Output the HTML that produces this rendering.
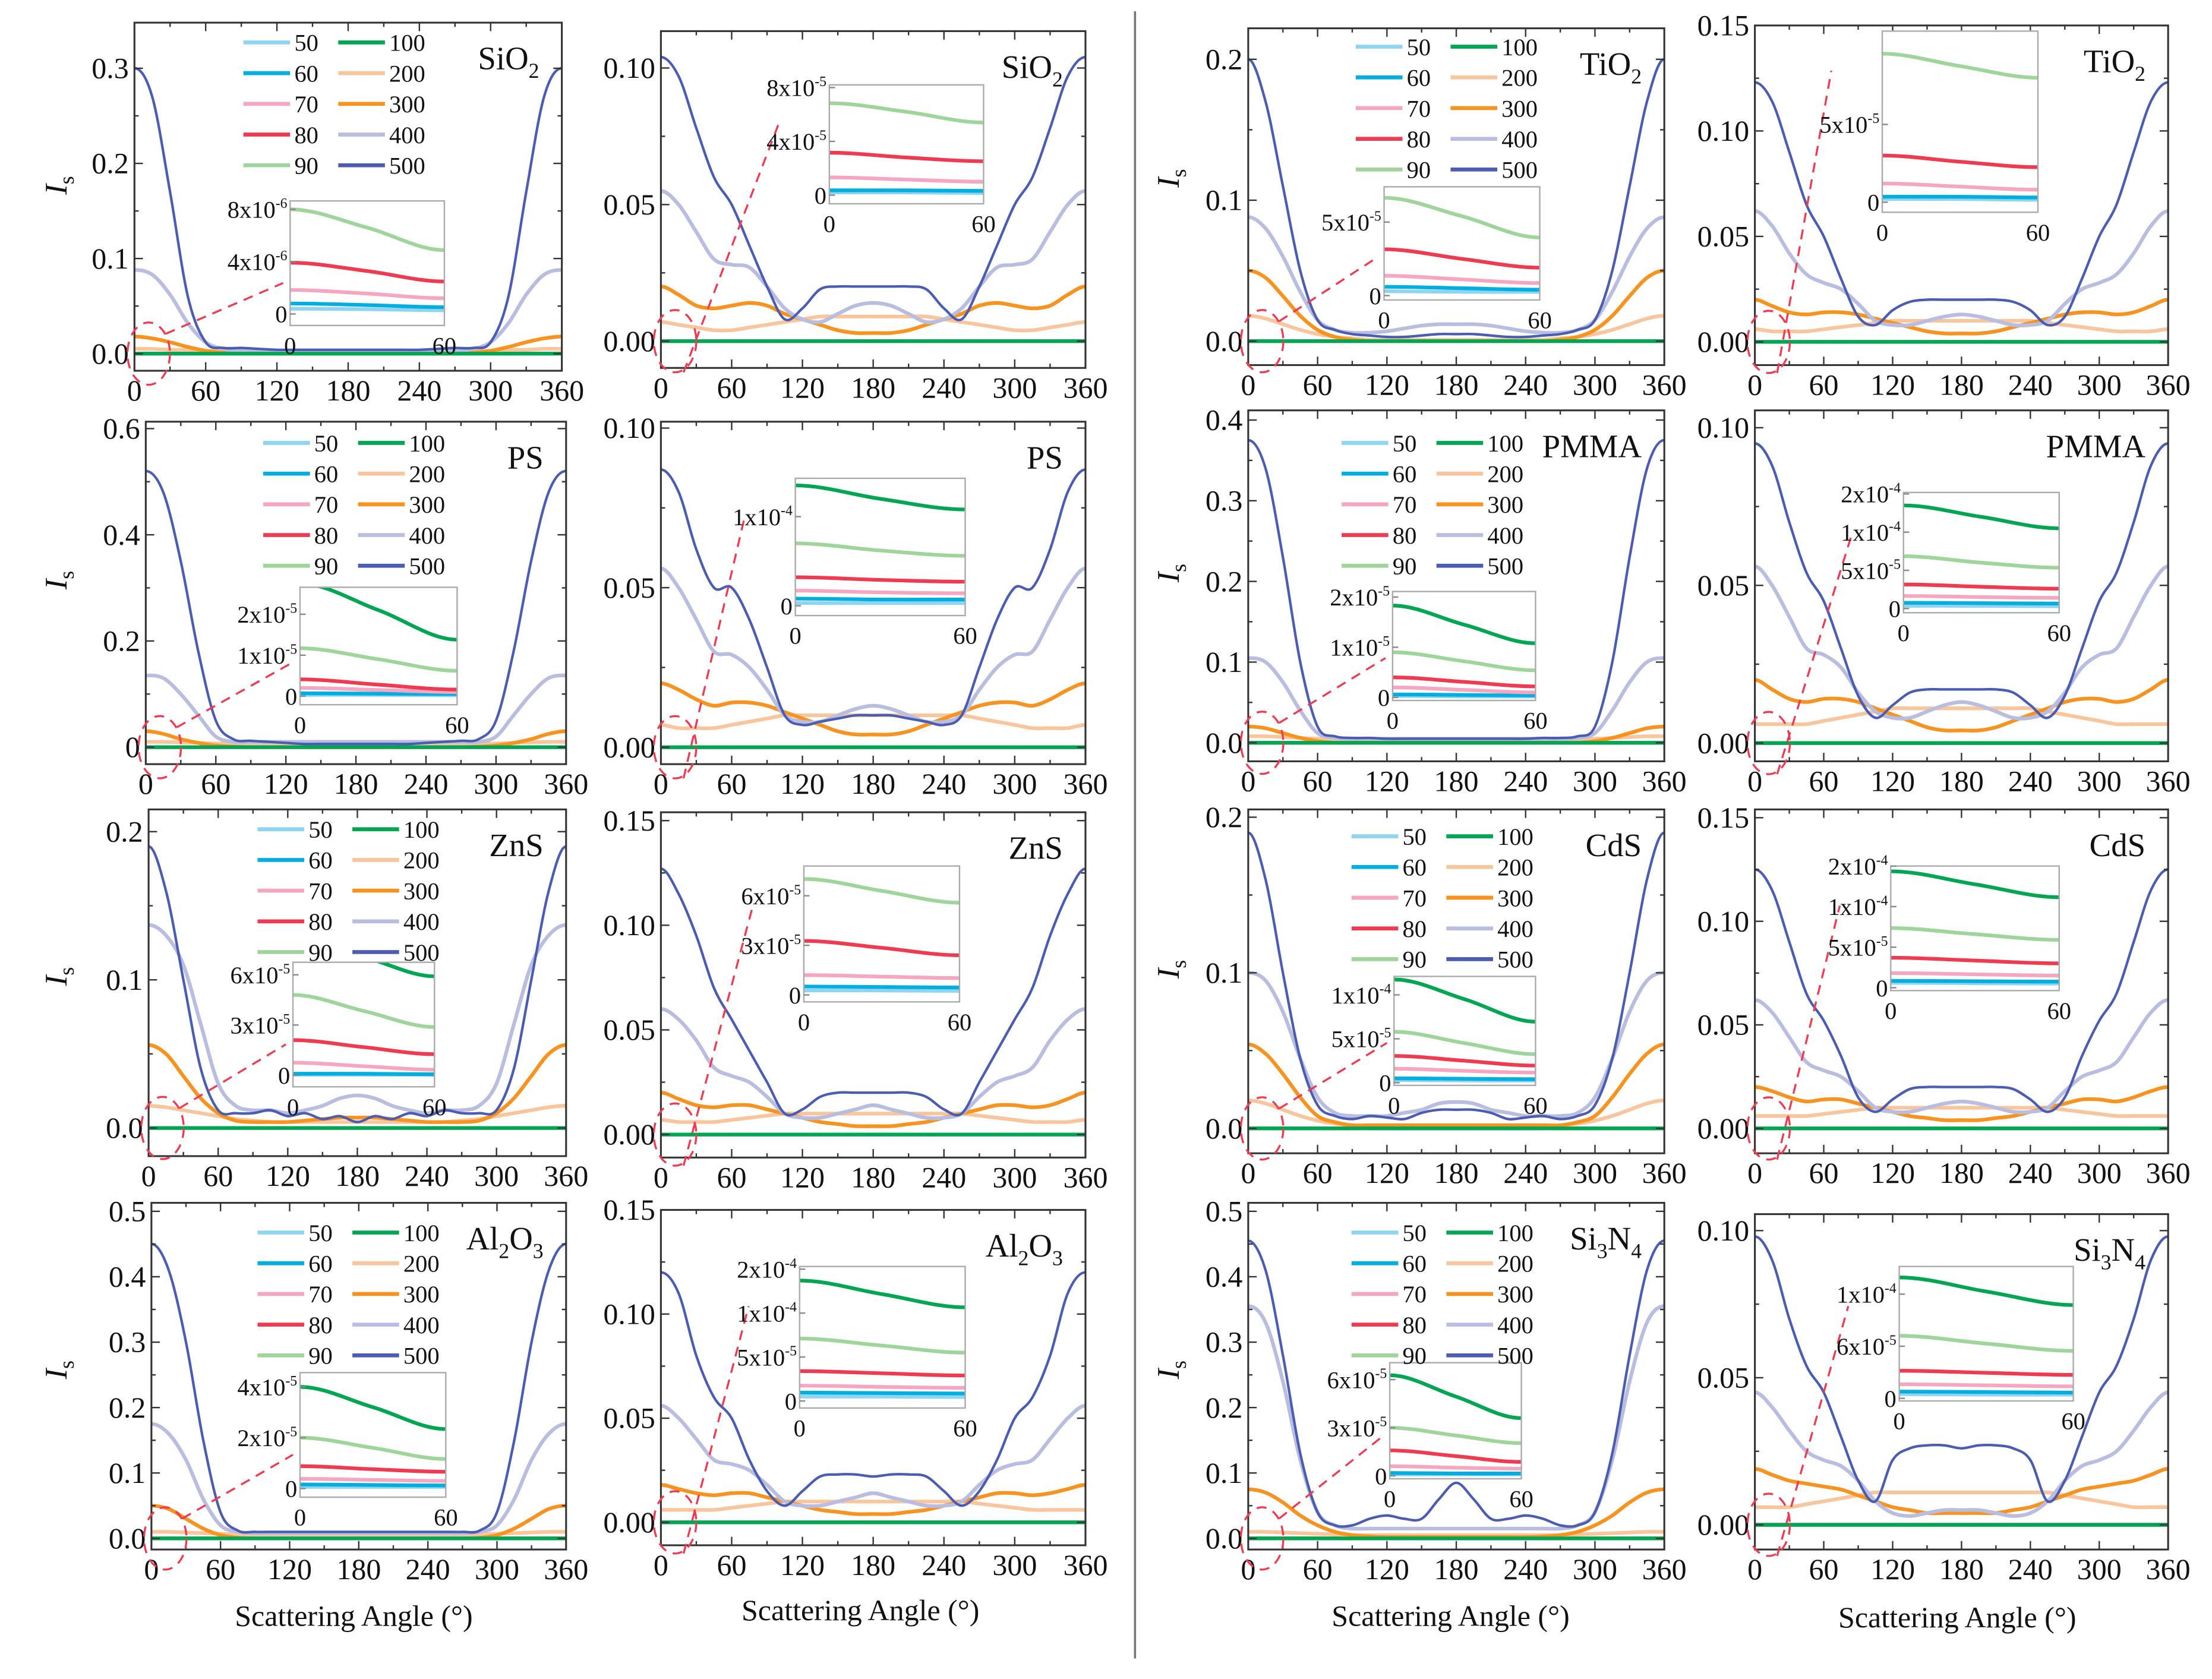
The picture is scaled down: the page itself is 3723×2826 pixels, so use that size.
<!DOCTYPE html>
<html><head><meta charset="utf-8">
<style>
html,body{margin:0;padding:0;background:#fff;}
svg, svg text{font-family:"Liberation Serif","DejaVu Serif",serif;}
</style></head>
<body>
<svg id="fig" xmlns="http://www.w3.org/2000/svg" width="3723" height="2821" viewBox="0 0 1563 1184.4" preserveAspectRatio="none" font-family="Liberation Serif, DejaVu Serif, serif">
<rect x="0" y="0" width="1563" height="1184.4" fill="#fff"/>
<line x1="802" y1="8" x2="802" y2="1172" stroke="#777" stroke-width="1.5"/>
</svg>
<script>
// ---------- DATA (main panels; angles 0..180 step 15, mirrored to 360) ----------
const ANG=[0,15,30,45,60,75,90,105,120,135,150,165,180];
const ZERO=[0,0,0,0,0,0,0,0,0,0,0,0,0];
// panel 1 SiO2 left
const p1_500=[0.30,0.27,0.17,0.06,0.012,0.006,0.006,0.005,0.004,0.004,0.004,0.004,0.004];
const p1_400=[0.088,0.083,0.062,0.032,0.012,0.005,0.003,0.003,0.003,0.003,0.003,0.003,0.003];
const p1_300=[0.018,0.016,0.012,0.007,0.003,0.001,0,0,0,0,0,0,0];
const p1_200=[0.005,0.005,0.004,0.004,0.003,0.003,0.003,0.003,0.003,0.003,0.003,0.003,0.003];
// panel 2 SiO2 right
const p2_500=[0.104,0.097,0.078,0.06,0.05,0.035,0.02,0.008,0.012,0.019,0.02,0.02,0.02];
const p2_400=[0.055,0.05,0.04,0.03,0.028,0.027,0.02,0.012,0.008,0.007,0.01,0.013,0.014];
const p2_300=[0.02,0.017,0.013,0.012,0.013,0.014,0.013,0.01,0.008,0.006,0.004,0.003,0.003];
const p2_200=[0.007,0.006,0.005,0.004,0.004,0.005,0.006,0.007,0.008,0.009,0.009,0.009,0.009];
// panel 3 TiO2 left
const p3_500=[0.2,0.17,0.11,0.05,0.015,0.008,0.005,0.004,0.003,0.003,0.004,0.005,0.005];
const p3_400=[0.088,0.08,0.06,0.035,0.015,0.008,0.006,0.006,0.007,0.009,0.011,0.012,0.012];
const p3_300=[0.05,0.045,0.032,0.018,0.008,0.003,0.001,0,0,0,0,0,0];
const p3_200=[0.018,0.016,0.012,0.008,0.005,0.003,0.002,0.001,0.001,0.001,0.001,0.001,0.001];
// panel 4 TiO2 right
const p4_500=[0.123,0.114,0.09,0.065,0.05,0.03,0.012,0.008,0.015,0.019,0.02,0.02,0.02];
const p4_400=[0.062,0.055,0.042,0.032,0.028,0.025,0.018,0.01,0.008,0.008,0.01,0.012,0.013];
const p4_300=[0.02,0.017,0.014,0.013,0.014,0.014,0.013,0.011,0.009,0.007,0.005,0.004,0.004];
const p4_200=[0.006,0.005,0.005,0.005,0.006,0.007,0.008,0.009,0.01,0.01,0.01,0.01,0.01];
// panel 5 PS left
const p5_500=[0.52,0.48,0.35,0.18,0.05,0.015,0.012,0.01,0.008,0.006,0.006,0.006,0.006];
const p5_400=[0.135,0.13,0.1,0.06,0.02,0.01,0.01,0.01,0.01,0.01,0.01,0.01,0.01];
const p5_300=[0.03,0.025,0.015,0.008,0.003,0.001,0,0,0,0,0,0,0];
const p5_200=[0.01,0.01,0.009,0.008,0.007,0.006,0.005,0.005,0.005,0.005,0.005,0.005,0.005];
// panel 6 PS right
const p6_500=[0.087,0.08,0.062,0.05,0.05,0.04,0.025,0.01,0.007,0.008,0.009,0.01,0.01];
const p6_400=[0.056,0.05,0.04,0.03,0.029,0.025,0.018,0.01,0.008,0.008,0.01,0.012,0.013];
const p6_300=[0.02,0.018,0.015,0.013,0.014,0.014,0.013,0.011,0.009,0.007,0.005,0.004,0.004];
const p6_200=[0.007,0.006,0.006,0.006,0.007,0.008,0.009,0.01,0.01,0.01,0.01,0.01,0.01];
// panel 7 PMMA left
const p7_500=[0.375,0.34,0.23,0.1,0.02,0.008,0.006,0.006,0.005,0.005,0.005,0.005,0.005];
const p7_400=[0.105,0.1,0.075,0.04,0.012,0.006,0.005,0.005,0.005,0.005,0.005,0.005,0.005];
const p7_300=[0.02,0.018,0.012,0.006,0.002,0,0,0,0,0,0,0,0];
const p7_200=[0.008,0.008,0.007,0.006,0.005,0.004,0.004,0.004,0.004,0.004,0.004,0.004,0.004];
// panel 8 PMMA right
const p8_500=[0.095,0.088,0.07,0.054,0.045,0.03,0.015,0.008,0.012,0.016,0.017,0.017,0.017];
const p8_400=[0.056,0.05,0.04,0.03,0.028,0.024,0.016,0.01,0.008,0.008,0.01,0.012,0.013];
const p8_300=[0.02,0.017,0.014,0.013,0.014,0.014,0.013,0.011,0.009,0.007,0.005,0.004,0.004];
const p8_200=[0.006,0.006,0.006,0.006,0.007,0.008,0.009,0.01,0.011,0.011,0.011,0.011,0.011];
// panel 9 ZnS left
const p9_500=[0.19,0.16,0.1,0.04,0.012,0.01,0.01,0.012,0.008,0.01,0.006,0.008,0.004];
const p9_400=[0.137,0.13,0.11,0.07,0.03,0.015,0.012,0.012,0.01,0.012,0.015,0.02,0.022];
const p9_300=[0.056,0.05,0.035,0.02,0.01,0.005,0.004,0.004,0.004,0.005,0.006,0.007,0.007];
const p9_200=[0.015,0.014,0.012,0.01,0.008,0.006,0.005,0.004,0.004,0.004,0.004,0.004,0.004];
// panel 10 ZnS right
const p10_500=[0.127,0.115,0.095,0.07,0.055,0.04,0.025,0.01,0.012,0.018,0.02,0.02,0.02];
const p10_400=[0.06,0.055,0.045,0.032,0.028,0.025,0.018,0.01,0.008,0.008,0.01,0.012,0.014];
const p10_300=[0.02,0.017,0.014,0.013,0.014,0.014,0.012,0.01,0.008,0.006,0.005,0.004,0.004];
const p10_200=[0.007,0.006,0.006,0.006,0.007,0.008,0.009,0.01,0.01,0.01,0.01,0.01,0.01];
// panel 11 CdS left
const p11_500=[0.19,0.16,0.1,0.045,0.015,0.008,0.006,0.008,0.007,0.006,0.01,0.012,0.012];
const p11_400=[0.1,0.095,0.075,0.045,0.02,0.01,0.008,0.008,0.008,0.01,0.012,0.016,0.017];
const p11_300=[0.054,0.048,0.035,0.02,0.008,0.004,0.002,0.002,0.002,0.002,0.002,0.002,0.002];
const p11_200=[0.018,0.016,0.012,0.008,0.005,0.003,0.002,0.002,0.002,0.002,0.002,0.002,0.002];
// panel 12 CdS right
const p12_500=[0.125,0.115,0.09,0.065,0.052,0.035,0.015,0.008,0.014,0.019,0.02,0.02,0.02];
const p12_400=[0.062,0.056,0.044,0.032,0.028,0.025,0.018,0.01,0.008,0.008,0.01,0.012,0.013];
const p12_300=[0.02,0.018,0.015,0.013,0.014,0.014,0.012,0.01,0.008,0.006,0.005,0.004,0.004];
const p12_200=[0.006,0.006,0.006,0.006,0.007,0.008,0.009,0.01,0.01,0.01,0.01,0.01,0.01];
// panel 13 Al2O3 left
const p13_500=[0.45,0.41,0.3,0.15,0.04,0.012,0.01,0.01,0.01,0.01,0.01,0.01,0.01];
const p13_400=[0.175,0.16,0.12,0.06,0.02,0.01,0.008,0.008,0.008,0.008,0.008,0.008,0.008];
const p13_300=[0.05,0.045,0.03,0.015,0.005,0.001,0,0,0,0,0,0,0];
const p13_200=[0.01,0.01,0.009,0.008,0.007,0.006,0.005,0.005,0.005,0.005,0.005,0.005,0.005];
// panel 14 Al2O3 right
const p14_500=[0.12,0.11,0.08,0.06,0.05,0.03,0.015,0.008,0.015,0.022,0.023,0.023,0.022];
const p14_400=[0.056,0.05,0.04,0.03,0.028,0.025,0.018,0.01,0.008,0.008,0.01,0.012,0.014];
const p14_300=[0.018,0.016,0.014,0.013,0.014,0.014,0.012,0.01,0.008,0.006,0.005,0.004,0.004];
const p14_200=[0.006,0.006,0.006,0.006,0.007,0.008,0.009,0.01,0.01,0.01,0.01,0.01,0.01];
// panel 15 Si3N4 left
const p15_500=[0.455,0.41,0.28,0.13,0.04,0.02,0.02,0.03,0.035,0.03,0.03,0.06,0.085];
const p15_400=[0.355,0.33,0.24,0.12,0.04,0.02,0.015,0.015,0.015,0.015,0.015,0.015,0.015];
const p15_300=[0.075,0.07,0.055,0.035,0.02,0.01,0.005,0.003,0.002,0.002,0.002,0.002,0.002];
const p15_200=[0.01,0.01,0.009,0.008,0.007,0.006,0.005,0.005,0.005,0.005,0.005,0.005,0.005];
// panel 16 Si3N4 right
const p16_500=[0.098,0.09,0.07,0.054,0.045,0.03,0.015,0.008,0.022,0.026,0.027,0.027,0.026];
const p16_400=[0.045,0.04,0.032,0.025,0.022,0.02,0.015,0.008,0.004,0.003,0.004,0.005,0.005];
const p16_300=[0.019,0.017,0.015,0.014,0.013,0.012,0.01,0.008,0.006,0.005,0.004,0.004,0.004];
const p16_200=[0.006,0.006,0.006,0.007,0.008,0.009,0.01,0.011,0.011,0.011,0.011,0.011,0.011];

// ---------- DATA (insets; angles 0,30,60; values in inset tick units) ----------
const IANG=[0,30,60];
const i1={s100:[9,8,7],s90:[2.0,1.65,1.22],s80:[0.98,0.82,0.62],s70:[0.46,0.39,0.3],s60:[0.2,0.17,0.13],s50:[0.1,0.09,0.07]};
const i2={s100:[9,8,7],s90:[1.71,1.55,1.35],s80:[0.79,0.7,0.63],s70:[0.33,0.29,0.25],s60:[0.09,0.09,0.08],s50:[0.05,0.05,0.04]};
const i3={s100:[9,8,7],s90:[1.33,1.08,0.79],s80:[0.63,0.5,0.38],s70:[0.27,0.22,0.17],s60:[0.12,0.1,0.08],s50:[0.06,0.05,0.05]};
const i4={s100:[9,8,7],s90:[1.91,1.75,1.6],s80:[0.6,0.52,0.45],s70:[0.24,0.2,0.16],s60:[0.07,0.07,0.06],s50:[0.04,0.04,0.03]};
const i5={s100:[2.75,2.1,1.38],s90:[1.17,0.9,0.62],s80:[0.41,0.28,0.16],s70:[0.2,0.15,0.1],s60:[0.07,0.06,0.05],s50:[0.03,0.03,0.02]};
const i6={s100:[1.35,1.2,1.08],s90:[0.7,0.62,0.56],s80:[0.32,0.29,0.27],s70:[0.17,0.15,0.14],s60:[0.08,0.07,0.07],s50:[0.03,0.03,0.03]};
const i7={s100:[1.83,1.45,1.08],s90:[0.9,0.72,0.54],s80:[0.4,0.31,0.22],s70:[0.2,0.15,0.1],s60:[0.06,0.05,0.04],s50:[0.03,0.02,0.02]};
const i8={s100:[2.7,2.4,2.1],s90:[1.37,1.2,1.07],s80:[0.63,0.57,0.52],s70:[0.33,0.3,0.28],s60:[0.15,0.14,0.13],s50:[0.07,0.07,0.06]};
const i9={s100:[2.6,2.35,1.97],s90:[1.6,1.28,0.96],s80:[0.7,0.56,0.42],s70:[0.25,0.18,0.11],s60:[0.03,0.03,0.02],s50:[0.01,0.01,0.01]};
const i10={s100:[9,8,7],s90:[2.34,2.1,1.86],s80:[1.09,0.95,0.8],s70:[0.4,0.37,0.34],s60:[0.17,0.16,0.15],s50:[0.09,0.09,0.08]};
const i11={s100:[2.35,1.9,1.39],s90:[1.16,0.9,0.65],s80:[0.61,0.5,0.39],s70:[0.32,0.27,0.23],s60:[0.1,0.09,0.08],s50:[0.06,0.05,0.05]};
const i12={s100:[2.87,2.55,2.23],s90:[1.47,1.32,1.18],s80:[0.74,0.67,0.6],s70:[0.36,0.33,0.3],s60:[0.17,0.16,0.15],s50:[0.12,0.11,0.1]};
const i13={s100:[2.0,1.6,1.17],s90:[1.0,0.8,0.58],s80:[0.44,0.38,0.33],s70:[0.19,0.17,0.15],s60:[0.08,0.07,0.06],s50:[0.03,0.03,0.03]};
const i14={s100:[2.74,2.43,2.13],s90:[1.42,1.26,1.1],s80:[0.68,0.63,0.58],s70:[0.35,0.32,0.3],s60:[0.19,0.18,0.17],s50:[0.1,0.1,0.09]};
const i15={s100:[2.09,1.65,1.2],s90:[1.0,0.84,0.68],s80:[0.53,0.41,0.29],s70:[0.2,0.17,0.15],s60:[0.06,0.05,0.05],s50:[0.03,0.03,0.03]};
const i16={s100:[2.32,2.05,1.79],s90:[1.2,1.05,0.91],s80:[0.53,0.49,0.45],s70:[0.27,0.25,0.23],s60:[0.13,0.12,0.11],s50:[0.08,0.07,0.07]};

// tick arrays
const XTICKS=[0,60,120,180,240,300,360];
const XMINOR=[30,90,150,210,270,330];
const yt_p1=[0,0.1,0.2,0.3], yl_p1=['0.0','0.1','0.2','0.3'];
const yt_r10=[0,0.05,0.1], yl_r10=['0.00','0.05','0.10'];
const yt_r15=[0,0.05,0.1,0.15], yl_r15=['0.00','0.05','0.10','0.15'];
const yt_l2=[0,0.1,0.2], yl_l2=['0.0','0.1','0.2'];
const yt_p5=[0,0.2,0.4,0.6], yl_p5=['0','0.2','0.4','0.6'];
const yt_p7=[0,0.1,0.2,0.3,0.4], yl_p7=['0.0','0.1','0.2','0.3','0.4'];
const yt_l5=[0,0.1,0.2,0.3,0.4,0.5], yl_l5=['0.0','0.1','0.2','0.3','0.4','0.5'];

const COLORS={'50':'#8fd5f2','60':'#00aedf','70':'#f7a6c2','80':'#ef3a52','90':'#9fd49b','100':'#00a651','200':'#f9c59c','300':'#f7931e','400':'#b9bde0','500':'#4b5db3'};

// ---------- layout ----------
const PANELS=[
 {n:1,mat:'SiO_2',box:[95,397,16,262],dom:[-0.018,0.348],yt:yt_p1,yl:yl_p1,d:[p1_500,p1_400,p1_300,p1_200],ib:[205,314,142,230],idom:[-0.22,2.16],il:['0','4x10^-6','8x10^-6'],id:i1,leg:[172,30],left:true},
 {n:2,mat:'SiO_2',box:[467,767,22,260],dom:[-0.0098,0.1135],yt:yt_r10,yl:yl_r10,d:[p2_500,p2_400,p2_300,p2_200],ib:[586,695,60,144],idom:[-0.16,2.05],il:['0','4x10^-5','8x10^-5'],id:i2},
 {n:3,mat:'TiO_2',box:[882,1176,20,258],dom:[-0.017,0.222],yt:yt_l2,yl:yl_l2,d:[p3_500,p3_400,p3_300,p3_200],ib:[978,1088,132,212],idom:[-0.06,1.48],il:['0','5x10^-5'],id:i3,leg:[958,33],left:true},
 {n:4,mat:'TiO_2',box:[1240,1532,18,258],dom:[-0.011,0.150],yt:yt_r15,yl:yl_r15,d:[p4_500,p4_400,p4_300,p4_200],ib:[1330,1440,22,150],idom:[-0.13,2.2],il:['0','5x10^-5'],id:i4},
 {n:5,mat:'PS',box:[103,400,298,540],dom:[-0.032,0.613],yt:yt_p5,yl:yl_p5,d:[p5_500,p5_400,p5_300,p5_200],ib:[212,323,415,498],idom:[-0.21,2.66],il:['0','1x10^-5','2x10^-5'],id:i5,leg:[186,313],left:true},
 {n:6,mat:'PS',box:[467,767,298,540],dom:[-0.0053,0.102],yt:yt_r10,yl:yl_r10,d:[p6_500,p6_400,p6_300,p6_200],ib:[562,682,338,435],idom:[-0.11,1.43],il:['0','1x10^-4'],id:i6},
 {n:7,mat:'PMMA',box:[882,1176,290,538],dom:[-0.023,0.412],yt:yt_p7,yl:yl_p7,d:[p7_500,p7_400,p7_300,p7_200],ib:[984,1085,418,495],idom:[-0.06,2.11],il:['0','1x10^-5','2x10^-5'],id:i7,leg:[948,313],left:true},
 {n:8,mat:'PMMA',box:[1240,1532,290,538],dom:[-0.0058,0.1055],yt:yt_r10,yl:yl_r10,d:[p8_500,p8_400,p8_300,p8_200],ib:[1345,1455,348,433],idom:[-0.11,3.04],il:['0','5x10^-5','1x10^-4','2x10^-4'],id:i8},
 {n:9,mat:'ZnS',box:[105,400,572,817],dom:[-0.019,0.215],yt:yt_l2,yl:yl_l2,d:[p9_500,p9_400,p9_300,p9_200],ib:[207,307,680,768],idom:[-0.23,2.25],il:['0','3x10^-5','6x10^-5'],id:i9,leg:[182,586],left:true},
 {n:10,mat:'ZnS',box:[467,767,574,818],dom:[-0.011,0.154],yt:yt_r15,yl:yl_r15,d:[p10_500,p10_400,p10_300,p10_200],ib:[568,678,612,708],idom:[-0.14,2.6],il:['0','3x10^-5','6x10^-5'],id:i10},
 {n:11,mat:'CdS',box:[882,1176,572,815],dom:[-0.016,0.205],yt:yt_l2,yl:yl_l2,d:[p11_500,p11_400,p11_300,p11_200],ib:[985,1085,690,767],idom:[-0.06,2.42],il:['0','5x10^-5','1x10^-4'],id:i11,leg:[955,591],left:true},
 {n:12,mat:'CdS',box:[1240,1532,572,815],dom:[-0.012,0.154],yt:yt_r15,yl:yl_r15,d:[p12_500,p12_400,p12_300,p12_200],ib:[1336,1455,612,700],idom:[-0.07,3.0],il:['0','5x10^-5','1x10^-4','2x10^-4'],id:i12},
 {n:13,mat:'Al_2O_3',box:[107,400,850,1095],dom:[-0.017,0.513],yt:yt_l5,yl:yl_l5,d:[p13_500,p13_400,p13_300,p13_200],ib:[212,315,970,1058],idom:[-0.17,2.28],il:['0','2x10^-5','4x10^-5'],id:i13,leg:[182,871],left:true},
 {n:14,mat:'Al_2O_3',box:[467,767,855,1092],dom:[-0.011,0.150],yt:yt_r15,yl:yl_r15,d:[p14_500,p14_400,p14_300,p14_200],ib:[565,682,895,995],idom:[-0.16,3.06],il:['0','5x10^-5','1x10^-4','2x10^-4'],id:i14},
 {n:15,mat:'Si_3N_4',box:[882,1176,850,1095],dom:[-0.017,0.513],yt:yt_l5,yl:yl_l5,d:[p15_500,p15_400,p15_300,p15_200],ib:[982,1075,963,1045],idom:[-0.06,2.35],il:['0','3x10^-5','6x10^-5'],id:i15,leg:[955,871],left:true},
 {n:16,mat:'Si_3N_4',box:[1240,1532,858,1095],dom:[-0.0084,0.1056],yt:yt_r10,yl:yl_r10,d:[p16_500,p16_400,p16_300,p16_200],ib:[1342,1465,895,990],idom:[-0.05,2.53],il:['0','6x10^-5','1x10^-4'],id:i16}
];
const XLAB_POS=[[250,1142],[608,1138],[1025,1142],[1383,1143]];
const YLAB_POS=[[40,131],[40,410],[40,690],[40,968],[826,126],[826,405],[826,685],[826,968]];
const FONT='"Liberation Serif","DejaVu Serif",serif';

const NS='http://www.w3.org/2000/svg';
const svg=document.getElementById('fig');
function mk(tag,attrs,parent){const e=document.createElementNS(NS,tag);for(const k in attrs)e.setAttribute(k,attrs[k]);if(tag==='text')e.style.fontFamily=FONT;parent.appendChild(e);return e;}

function smoothPath(pts){
  const n=pts.length;const m=[];
  for(let i=0;i<n;i++){
    if(i===0||i===n-1)m.push(0);
    else m.push((pts[i+1][1]-pts[i-1][1])/(pts[i+1][0]-pts[i-1][0]));
  }
  let d='M'+pts[0][0].toFixed(2)+','+pts[0][1].toFixed(2);
  for(let i=0;i<n-1;i++){
    const dx=pts[i+1][0]-pts[i][0];
    const c1=[pts[i][0]+dx/3,pts[i][1]+m[i]*dx/3];
    const c2=[pts[i+1][0]-dx/3,pts[i+1][1]-m[i+1]*dx/3];
    d+='C'+c1[0].toFixed(2)+','+c1[1].toFixed(2)+' '+c2[0].toFixed(2)+','+c2[1].toFixed(2)+' '+pts[i+1][0].toFixed(2)+','+pts[i+1][1].toFixed(2);
  }
  return d;
}
function addMat(t,str){
  const parts=str.split('_');
  parts.forEach((p,i)=>{
    if(i===0){t.appendChild(document.createTextNode(p));return;}
    const sub=document.createElementNS(NS,'tspan');sub.setAttribute('font-size','15');sub.setAttribute('dy','6');sub.textContent=p[0];t.appendChild(sub);
    if(p.length>1){const r=document.createElementNS(NS,'tspan');r.setAttribute('dy','-6');r.textContent=p.slice(1);t.appendChild(r);}
  });
}
function addSci(t,str){
  const parts=str.split('^');
  t.appendChild(document.createTextNode(parts[0]));
  if(parts.length>1){const s=document.createElementNS(NS,'tspan');s.setAttribute('font-size','10');s.setAttribute('dy','-7');s.textContent=parts[1];t.appendChild(s);}
}

PANELS.forEach(P=>{
  const [x0,x1,y0,y1]=P.box;
  const g=mk('g',{},svg);
  
  
  const xs=a=>x0+(a/360)*(x1-x0);
  const ys=v=>y1-(v-P.dom[0])/(P.dom[1]-P.dom[0])*(y1-y0);
  const cid='clip'+P.n;
  const cp=mk('clipPath',{id:cid},g);
  mk('rect',{x:x0,y:y0,width:x1-x0,height:y1-y0},cp);
  const cg=mk('g',{'clip-path':'url(#'+cid+')'},g);
  
  
  const order=[['50',ZERO],['60',ZERO],['70',ZERO],['80',ZERO],['90',ZERO],['200',P.d[3]],['300',P.d[2]],['400',P.d[1]],['100',ZERO],['500',P.d[0]]];
  order.forEach(([k,vals])=>{
    const pts=[];
    ANG.forEach((a,i)=>pts.push([xs(a),ys(vals[i])]));
    for(let i=ANG.length-2;i>=0;i--)pts.push([xs(360-ANG[i]),ys(vals[i])]);
    const p=mk('path',{d:smoothPath(pts),fill:'none',stroke:COLORS[k],'stroke-width':k==='500'?1.8:2.6,'stroke-linejoin':'round'},cg);
    
    
  });
  const fr=mk('rect',{x:x0,y:y0,width:x1-x0,height:y1-y0,fill:'none',stroke:'#333','stroke-width':1.3},g);
  
  
  XTICKS.forEach(a=>{
    const x=xs(a);
    mk('line',{x1:x,y1:y1,x2:x,y2:y1-6,stroke:'#333','stroke-width':1},g);
    mk('line',{x1:x,y1:y0,x2:x,y2:y0+6,stroke:'#333','stroke-width':1},g);
    const t=mk('text',{x:x,y:y1+21,'text-anchor':'middle','font-size':21,fill:'#111'},g);
    t.textContent=String(a);
    
    
  });
  XMINOR.forEach(a=>{
    const x=xs(a);
    mk('line',{x1:x,y1:y1,x2:x,y2:y1-3,stroke:'#333','stroke-width':1},g);
    mk('line',{x1:x,y1:y0,x2:x,y2:y0+3,stroke:'#333','stroke-width':1},g);
  });
  P.yt.forEach((v,i)=>{
    const y=ys(v);
    mk('line',{x1:x0,y1:y,x2:x0+6,y2:y,stroke:'#333','stroke-width':1},g);
    mk('line',{x1:x1,y1:y,x2:x1-6,y2:y,stroke:'#333','stroke-width':1},g);
    const t=mk('text',{x:x0-4,y:y+7,'text-anchor':'end','font-size':21,fill:'#111'},g);
    t.textContent=P.yl[i];
    
    
    if(i<P.yt.length-1){
      const ym=ys((v+P.yt[i+1])/2);
      mk('line',{x1:x0,y1:ym,x2:x0+3,y2:ym,stroke:'#333','stroke-width':1},g);
      mk('line',{x1:x1,y1:ym,x2:x1-3,y2:ym,stroke:'#333','stroke-width':1},g);
    }
  });
  const ml=mk('text',{x:x1-16,y:y0+33,'text-anchor':'end','font-size':23,fill:'#111'},g);
  addMat(ml,P.mat);
  
  
  const [ix0,ix1,iy0,iy1]=P.ib;
  const ex=xs(12),ey=ys(0);
  const el=mk('ellipse',{cx:ex,cy:ey,rx:15,ry:22,fill:'none',stroke:'#ef3a52','stroke-width':1.4,'stroke-dasharray':'7,5'},g);
  
  
  const ln=P.left?
    mk('line',{x1:ex+12,y1:ey-14,x2:ix0-5,y2:iy1-30,stroke:'#ef3a52','stroke-width':1.4,'stroke-dasharray':'7,5'},g):
    mk('line',{x1:ex+6,y1:ey+22,x2:ix0-36,y2:iy0+28,stroke:'#ef3a52','stroke-width':1.4,'stroke-dasharray':'7,5'},g);
  
  
  const ig=mk('g',{},g);
  
  
  const ixs=a=>ix0+(a/60)*(ix1-ix0);
  const iys=v=>iy1-(v-P.idom[0])/(P.idom[1]-P.idom[0])*(iy1-iy0);
  mk('rect',{x:ix0,y:iy0,width:ix1-ix0,height:iy1-iy0,fill:'#fff'},ig);
  const icid='iclip'+P.n;
  const icp=mk('clipPath',{id:icid},ig);
  mk('rect',{x:ix0,y:iy0,width:ix1-ix0,height:iy1-iy0},icp);
  const icg=mk('g',{'clip-path':'url(#'+icid+')'},ig);
  ['50','60','70','80','90','100'].forEach(k=>{
    const vals=P.id['s'+k];
    const pts=IANG.map((a,i)=>[ixs(a),iys(vals[i])]);
    const p=mk('path',{d:smoothPath(pts),fill:'none',stroke:COLORS[k],'stroke-width':2.6},icg);
    
    
  });
  const ifr=mk('rect',{x:ix0,y:iy0,width:ix1-ix0,height:iy1-iy0,fill:'none',stroke:'#aaa','stroke-width':1},ig);
  
  
  P.il.forEach((lab,i)=>{
    const y=iys(i);
    mk('line',{x1:ix0,y1:y,x2:ix0+4,y2:y,stroke:'#888','stroke-width':1},ig);
    const t=mk('text',{x:ix0-2,y:y+6,'text-anchor':'end','font-size':17,fill:'#111'},ig);
    addSci(t,lab);
    
    
  });
  [0,60].forEach(a=>{
    const t=mk('text',{x:ixs(a),y:iy1+20,'text-anchor':'middle','font-size':17,fill:'#111'},ig);
    t.textContent=String(a);
    
    
  });
  if(P.leg){
    const lg=mk('g',{},g);
    
    
    const [lx,ly]=P.leg;
    const cols=[['50','60','70','80','90'],['100','200','300','400','500']];
    cols.forEach((col,ci)=>{
      col.forEach((k,ri)=>{
        const bx=lx+ci*67, by=ly+ri*21.7;
        const l=mk('line',{x1:bx,y1:by,x2:bx+33,y2:by,stroke:COLORS[k],'stroke-width':2.8},lg);
        
        
        const t=mk('text',{x:bx+36,y:by+6,'font-size':17,fill:'#111'},lg);
        t.textContent=k;
        
        
      });
    });
  }
});
XLAB_POS.forEach(([x,y])=>{
  const t=mk('text',{x:x,y:y+7,'text-anchor':'middle','font-size':21,fill:'#111'},svg);
  t.textContent='Scattering Angle (°)';
  
  
});
YLAB_POS.forEach(([x,y])=>{
  const t=mk('text',{x:0,y:0,'text-anchor':'middle','font-size':22,fill:'#111','font-style':'italic',transform:'translate('+(x+7)+','+y+') rotate(-90)'},svg);
  t.appendChild(document.createTextNode('I'));
  const s=document.createElementNS(NS,'tspan');s.setAttribute('font-size','15');s.setAttribute('font-style','normal');s.setAttribute('dy','5');s.textContent='s';t.appendChild(s);
  
  
});
</script>
</body></html>
